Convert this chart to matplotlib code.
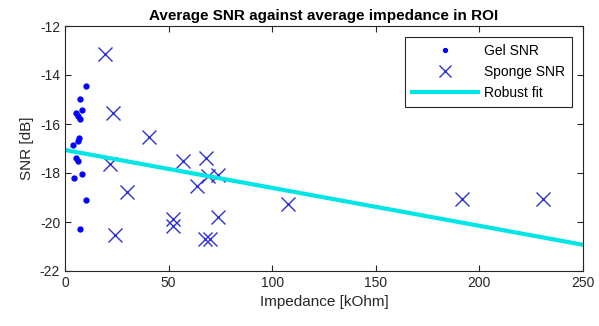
import numpy as np
import matplotlib as mpl
import matplotlib.pyplot as plt

mpl.use("Agg")

plt.rcParams.update({"font.family": ["Liberation Sans", "DejaVu Sans"]})
plt.rcParams.update({"font.size": 10})
plt.rcParams.update({"axes.unicode_minus": False})

# gel electrodes
gel_imp = [10.0, 7.1, 8.0, 5.5, 6.4, 7.4, 6.8, 6.1, 3.9, 5.5, 6.4, 8.3, 4.5, 10.3, 7.1]
gel_snr = [-14.46, -14.96, -15.41, -15.54, -15.68, -15.81, -16.58, -16.69,
           -16.84, -17.40, -17.53, -18.04, -18.20, -19.09, -20.30]

# sponge electrodes
sponge_imp = [19.3, 23.0, 40.7, 21.7, 57.1, 68.1, 74.0, 69.2, 63.9, 30.1,
              74.0, 52.3, 52.0, 24.1, 67.6, 70.0, 107.6, 191.4, 230.6]
sponge_snr = [-13.14, -15.54, -16.52, -17.64, -17.50, -17.40, -18.07, -18.11,
              -18.52, -18.76, -19.80, -19.87, -20.17, -20.55, -20.71, -20.68,
              -19.26, -19.06, -19.06]

# robust fit end points
fit_imp = [0, 250]
fit_snr = [-17.06, -20.93]

x_ticks = [0, 50, 100, 150, 200, 250]
y_ticks = [-22, -20, -18, -16, -14, -12]

fig = plt.figure(figsize=(5.99, 3.26), dpi=100)
ax = fig.add_axes([65 / 599, 1 - 271 / 326, 518 / 599, 245 / 326])

ax.plot(gel_imp, gel_snr, ".", color="#0000ff", markersize=7, label="Gel SNR")
ax.plot(sponge_imp, sponge_snr, "x", color="#2f2fd8", markersize=10,
        markeredgewidth=1.0, label="Sponge SNR")
ax.plot(fit_imp, fit_snr, "-", color="#00e5e5", linewidth=3, label="Robust fit")

ax.set_xlim(0, 250)
ax.set_ylim(-22, -12)
ax.set_xticks(x_ticks)
ax.set_yticks(y_ticks)
ax.tick_params(direction="in", top=True, right=True, length=4,
               colors="#262626", labelsize=10)
for s in ax.spines.values():
    s.set_color("#262626")
    s.set_linewidth(0.8)

ax.set_xlabel("Impedance [kOhm]", fontsize=11, color="#262626")
ax.set_ylabel("SNR [dB]", fontsize=11, color="#262626")
ax.set_title("Average SNR against average impedance in ROI", fontsize=11,
             fontweight="bold", pad=4)

leg = ax.legend(loc="upper right", fancybox=False, edgecolor="#262626",
                framealpha=1, fontsize=10, borderaxespad=0.8,
                handlelength=4.8, labelspacing=0.5, markerscale=0.8,
                handletextpad=0.4, borderpad=0.5)
leg.get_frame().set_linewidth(0.8)

plt.savefig("out.png", dpi=100)
